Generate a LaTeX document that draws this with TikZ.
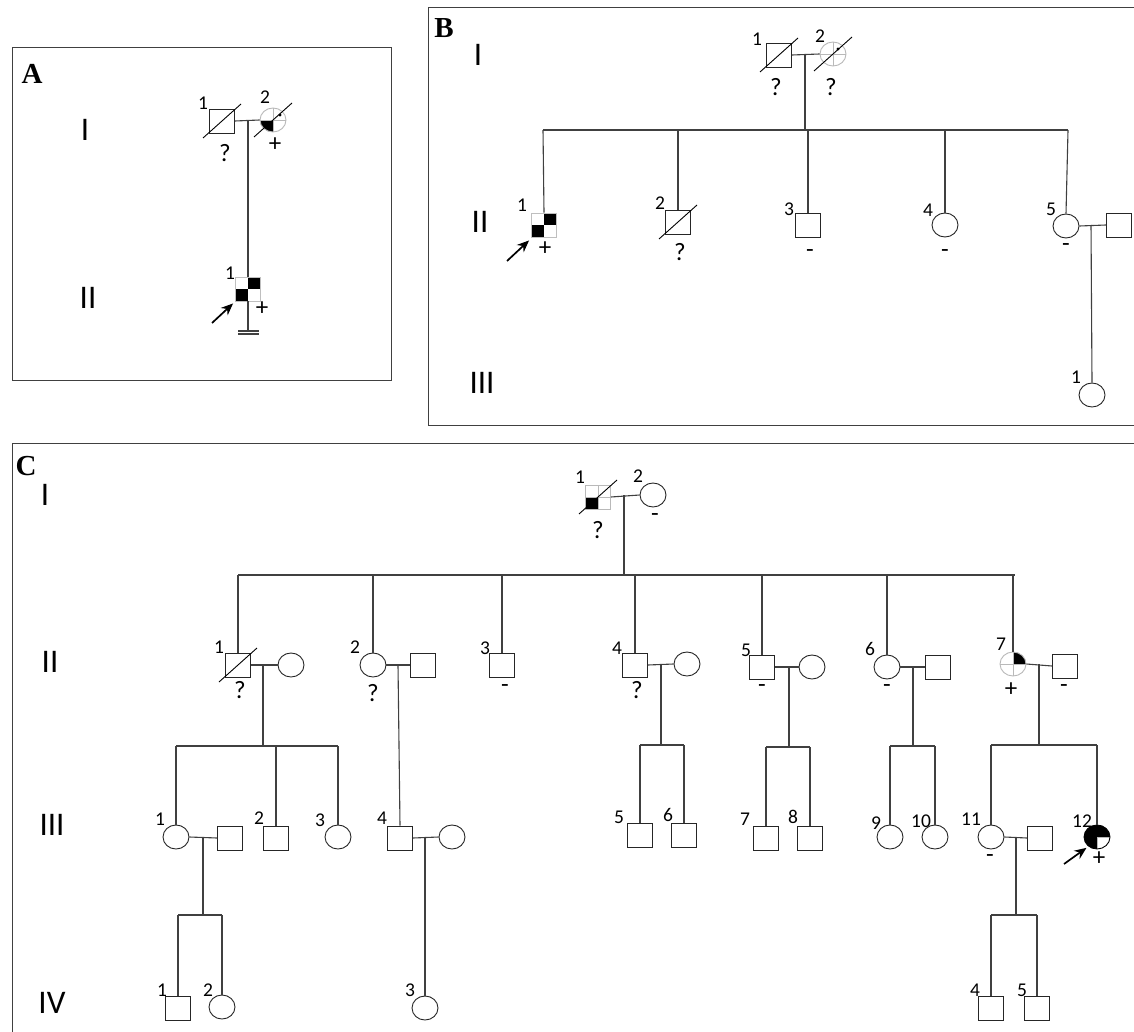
\documentclass[tikz,border=0pt]{standalone}
\usepackage{fontspec}
\setmainfont{Carlito}
\newfontfamily\tnr{Liberation Serif}
\usetikzlibrary{shapes.geometric,arrows.meta}
\newcommand\numf{\fontsize{19.5}{20}\selectfont}
\newcommand\mkf{\fontsize{25}{26}\selectfont}
\newcommand\romf{\fontsize{33}{34}\selectfont}
\newcommand\panf{\tnr\bfseries\fontsize{29}{30}\selectfont}
\tikzset{
 ln/.style={draw=black!75, line width=1.1pt},
 frame/.style={draw=black!75, line width=1pt},
 sq/.style={draw=black!85, line width=0.9pt, rectangle, minimum width=25pt, minimum height=24pt, inner sep=0pt},
 ci/.style={draw=black!85, line width=0.9pt, ellipse, minimum width=26pt, minimum height=24pt, inner sep=0pt},
 num/.style={font=\numf, inner sep=0pt},
 mk/.style={font=\mkf, inner sep=0pt},
 rom/.style={font=\romf, inner sep=0pt},
 pan/.style={font=\panf, inner sep=0pt},
 dg/.style={draw=black, line width=0.9pt},
 arr/.style={-{Stealth[length=12pt,width=10pt]}, line width=1.7pt},
 crs/.style={draw=gray!55, line width=0.7pt},
 check/.style={sq, draw=gray!50, path picture={
   \fill (path picture bounding box.center) rectangle (path picture bounding box.north east);
   \fill (path picture bounding box.center) rectangle (path picture bounding box.south west);}},
 cbl/.style={ci, draw=gray!55, path picture={
   \fill (path picture bounding box.center) rectangle (path picture bounding box.south west);
   \draw[crs] (path picture bounding box.north) -- (path picture bounding box.south)
     (path picture bounding box.west) -- (path picture bounding box.east);}},
 cx/.style={ci, draw=gray!55, path picture={
   \draw[crs] (path picture bounding box.north) -- (path picture bounding box.south)
     (path picture bounding box.west) -- (path picture bounding box.east);}},
 ctr/.style={ci, draw=gray!55, path picture={
   \fill (path picture bounding box.center) rectangle (path picture bounding box.north east);
   \draw[crs] (path picture bounding box.north) -- (path picture bounding box.south)
     (path picture bounding box.west) -- (path picture bounding box.east);}},
 c3q/.style={ci, draw=black, path picture={
   \fill (path picture bounding box.center) rectangle (path picture bounding box.north east);
   \fill (path picture bounding box.north west) rectangle (path picture bounding box.south);
   \draw[crs] (path picture bounding box.center) -- (path picture bounding box.south)
     (path picture bounding box.center) -- (path picture bounding box.east);}},
 sbl/.style={sq, draw=gray!55, path picture={
   \fill (path picture bounding box.center) rectangle (path picture bounding box.south west);
   \draw[crs] (path picture bounding box.north) -- (path picture bounding box.south)
     (path picture bounding box.west) -- (path picture bounding box.east);}},
}
\newcommand\dead[1]{\draw[dg] ([shift={(-19,17)}]#1.center) -- ([shift={(19,-17)}]#1.center);}
\begin{document}
\begin{tikzpicture}[x=1pt,y=-1pt]
\useasboundingbox (0,0) rectangle (1134,1032);
\fill[white] (0,0) rectangle (1134,1032);
% ================= Panel A =================
\draw[frame] (12,48) rectangle (391,380);
\node[pan] (pA) at (32,74) {A};
\node[rom] (rAI) at (85,130) {I};
\node[rom] (rAII) at (88,298) {II};
\node[sq] (A1) at (222,121) {};
\node[cbl] (A2) at (273,120) {};
\fill ([shift={(7,-5)}]A2.center) circle (1.7);
\dead{A1} \dead{A2}
\draw[ln] (A1.east) -- (A2.west);
\coordinate (A12) at (248,121);
\node[num] at (203,103) {1};
\node[num] at (265,97) {2};
\node[mk] at (225,153) {?};
\node[mk] at (275,145) {+};
\node[check] (A3) at (248,289) {};
\draw[ln] (A12) -- (A3.north);
\coordinate (A3b) at (248,331);
\draw[ln] (A3.south) -- (A3b);
\draw[ln] ([xshift=-10]A3b) -- ([xshift=11]A3b) ([shift={(-10,3)}]A3b) -- ([shift={(11,3)}]A3b);
\node[num] at (230,273) {1};
\node[mk] at (262,309) {+};
\coordinate (A3a) at (212,323);
\draw[arr] (A3a) -- ([shift={(-2,2)}]A3.south west);
% ================= Panel B =================
\draw[frame] (1134,8) -- (428,8) -- (428,425) -- (1134,425);
\node[pan] (pB) at (444,28) {B};
\node[rom] (rBI) at (478,55) {I};
\node[rom] (rBII) at (480,222) {II};
\node[rom] (rBIII) at (482,383) {III};
\node[sq] (B1) at (779,55) {};
\node[cx] (B2) at (833,54) {};
\fill ([shift={(5,-5)}]B2.center) circle (1.7);
\dead{B1} \dead{B2}
\draw[ln] (B1.east) -- (B2.west);
\node[num] at (757,39) {1};
\node[num] at (820,36) {2};
\node[mk] at (776,87) {?};
\node[mk] at (831,87) {?};
\coordinate (B12) at (805,54);
\coordinate (Bs) at (805,130);
\coordinate (BsL) at (543,130);
\coordinate (BsR) at (1068,130);
\draw[ln] (B12) -- (Bs);
\draw[ln] (BsL) -- (BsR);
\node[check] (BII1) at (544,225) {};
\node[sq] (BII2) at (678,222) {};
\dead{BII2}
\node[sq] (BII3) at (808,225) {};
\node[ci] (BII4) at (945,225) {};
\node[ci] (BII5) at (1066,226) {};
\node[sq] (BII5s) at (1119,225) {};
\draw[ln] (BsL) -- (BII1.north);
\draw[ln] (BII2.north |- Bs) -- (BII2.north);
\draw[ln] (BII3.north |- Bs) -- (BII3.north);
\draw[ln] (BII4.north |- Bs) -- (BII4.north);
\draw[ln] (BsR) -- (BII5.north);
\draw[ln] (BII5.east) -- (BII5s.west);
\node[num] at (522,205) {1};
\node[mk] at (545,249) {+};
\coordinate (BII1a) at (507,261);
\draw[arr] (BII1a) -- ([shift={(-2,3)}]BII1.south west);
\node[num] at (660,203) {2};
\node[mk] at (680,252) {?};
\node[num] at (789,209) {3};
\node[mk] at (810,254) {-};
\node[num] at (928,210) {4};
\node[mk] at (945,254) {-};
\node[num] at (1051,209) {5};
\node[mk] at (1066,248) {-};
\coordinate (B5c) at (1091,225);
\node[ci] (BIII1) at (1092,395) {};
\draw[ln] (B5c) -- (BIII1.north);
\node[num] at (1076,377) {1};
% ================= Panel C =================
\draw[frame] (1134,443) -- (12,443) -- (12,1032);
\node[pan] (pC) at (26,466) {C};
\node[rom] (rCI) at (45,495) {I};
\node[rom] (rCII) at (50,662) {II};
\node[rom] (rCIII) at (52,825) {III};
\node[rom] (rCIV) at (52,1003) {IV};
% generation I
\node[sbl] (C1) at (598,497) {};
\dead{C1}
\node[ci] (C2) at (653,495) {};
\draw[ln] (C1.east) -- (C2.west);
\node[num] at (580,477) {1};
\node[num] at (638,476) {2};
\node[mk] at (598,530) {?};
\node[mk] at (655,518) {-};
\coordinate (C12) at (624,495);
\coordinate (Cs) at (624,575);
\draw[ln] (C12) -- (Cs);
\draw[ln] (238,575) coordinate (CsL) -- (1015,575) coordinate (CsR);
% generation II
\node[sq] (CII1) at (238,665) {};
\dead{CII1}
\node[ci] (CII1s) at (291,665) {};
\node[ci] (CII2) at (373,665) {};
\node[sq] (CII2s) at (423,665) {};
\node[sq] (CII3) at (502,665) {};
\node[sq] (CII4) at (635,665) {};
\node[ci] (CII4s) at (687,664) {};
\node[sq] (CII5) at (762,667) {};
\node[ci] (CII5s) at (812,667) {};
\node[ci] (CII6) at (887,667) {};
\node[sq] (CII6s) at (938,667) {};
\node[ctr] (CII7) at (1013,664) {};
\node[sq] (CII7s) at (1065,666) {};
\foreach \n in {CII1,CII2,CII3,CII4,CII5,CII6,CII7}
  \draw[ln] (\n.north |- Cs) -- (\n.north);
\draw[ln] (CII1.east) -- (CII1s.west);
\draw[ln] (CII2.east) -- (CII2s.west);
\draw[ln] (CII4.east) -- (CII4s.west);
\draw[ln] (CII5.east) -- (CII5s.west);
\draw[ln] (CII6.east) -- (CII6s.west);
\draw[ln] (CII7.east) -- (CII7s.west);
\node[num] at (219,647) {1};
\node[mk] at (240,690) {?};
\node[num] at (355,647) {2};
\node[mk] at (373,693) {?};
\node[num] at (485,648) {3};
\node[mk] at (505,689) {-};
\node[num] at (617,648) {4};
\node[mk] at (637,690) {?};
\node[num] at (746,650) {5};
\node[mk] at (762,689) {-};
\node[num] at (870,649) {6};
\node[mk] at (887,689) {-};
\node[num] at (1001,644) {7};
\node[mk] at (1011,690) {+};
\node[mk] at (1064,689) {-};
% generation III
\node[ci] (CIII1) at (176,837) {};
\node[sq] (CIII1s) at (230,838) {};
\node[sq] (CIII2) at (276,838) {};
\node[ci] (CIII3) at (338,837) {};
\node[sq] (CIII4) at (400,838) {};
\node[ci] (CIII4s) at (452,837) {};
\node[sq] (CIII5) at (640,835) {};
\node[sq] (CIII6) at (684,835) {};
\node[sq] (CIII7) at (766,838) {};
\node[sq] (CIII8) at (810,838) {};
\node[ci] (CIII9) at (890,837) {};
\node[ci] (CIII10) at (935,837) {};
\node[ci] (CIII11) at (991,837) {};
\node[sq] (CIII11s) at (1040,838) {};
\node[c3q] (CIII12) at (1097,837) {};
% descent II-1
\coordinate (C1d) at (263,665);
\coordinate (C1s) at (263,746);
\draw[ln] (C1d) -- (C1s);
\draw[ln] (CIII1.north |- C1s) -- (CIII3.north |- C1s);
\foreach \n in {CIII1,CIII2,CIII3} \draw[ln] (\n.north |- C1s) -- (\n.north);
% descent II-2
\coordinate (C2d) at (398,665);
\draw[ln] (C2d) -- (CIII4.north);
% descent II-4
\coordinate (C4d) at (661,664);
\coordinate (C4s) at (661,745);
\draw[ln] (C4d) -- (C4s);
\draw[ln] (CIII5.north |- C4s) -- (CIII6.north |- C4s);
\foreach \n in {CIII5,CIII6} \draw[ln] (\n.north |- C4s) -- (\n.north);
% descent II-5
\coordinate (C5d) at (789,667);
\coordinate (C5s) at (789,747);
\draw[ln] (C5d) -- (C5s);
\draw[ln] (CIII7.north |- C5s) -- (CIII8.north |- C5s);
\foreach \n in {CIII7,CIII8} \draw[ln] (\n.north |- C5s) -- (\n.north);
% descent II-6
\coordinate (C6d) at (913,667);
\coordinate (C6s) at (913,746);
\draw[ln] (C6d) -- (C6s);
\draw[ln] (CIII9.north |- C6s) -- (CIII10.north |- C6s);
\foreach \n in {CIII9,CIII10} \draw[ln] (\n.north |- C6s) -- (\n.north);
% descent II-7
\coordinate (C7d) at (1039,664);
\coordinate (C7s) at (1039,745);
\draw[ln] (C7d) -- (C7s);
\draw[ln] (CIII11.north |- C7s) -- (CIII12.north |- C7s);
\foreach \n in {CIII11,CIII12} \draw[ln] (\n.north |- C7s) -- (\n.north);
% couples III
\draw[ln] (CIII1.east) -- (CIII1s.west);
\draw[ln] (CIII4.east) -- (CIII4s.west);
\draw[ln] (CIII11.east) -- (CIII11s.west);
\node[num] at (160,819) {1};
\node[num] at (259,818) {2};
\node[num] at (320,820) {3};
\node[num] at (382,818) {4};
\node[num] at (619,817) {5};
\node[num] at (668,815) {6};
\node[num] at (745,819) {7};
\node[num] at (793,817) {8};
\node[num] at (876,823) {9};
\node[num] at (921,821) {10};
\node[num] at (971,819) {11};
\node[mk] at (990,859) {-};
\node[num] at (1082,821) {12};
\node[mk] at (1099,859) {+};
\coordinate (C12a) at (1064,864);
\draw[arr] (C12a) -- ([shift={(-1,2)}]CIII12.south west);
% generation IV
\node[sq] (CIV1) at (178,1008) {};
\node[ci] (CIV2) at (222,1007) {};
\node[ci] (CIV3) at (425,1008) {};
\node[sq] (CIV4) at (991,1008) {};
\node[sq] (CIV5) at (1037,1008) {};
\coordinate (C31d) at (203,837);
\coordinate (C31s) at (203,915);
\draw[ln] (C31d) -- (C31s);
\draw[ln] (CIV1.north |- C31s) -- (CIV2.north |- C31s);
\foreach \n in {CIV1,CIV2} \draw[ln] (\n.north |- C31s) -- (\n.north);
\coordinate (C34d) at (425,837);
\draw[ln] (C34d) -- (CIV3.north);
\coordinate (C311d) at (1016,837);
\coordinate (C311s) at (1016,915);
\draw[ln] (C311d) -- (C311s);
\draw[ln] (CIV4.north |- C311s) -- (CIV5.north |- C311s);
\foreach \n in {CIV4,CIV5} \draw[ln] (\n.north |- C311s) -- (\n.north);
\node[num] at (162,990) {1};
\node[num] at (208,990) {2};
\node[num] at (410,990) {3};
\node[num] at (975,990) {4};
\node[num] at (1022,990) {5};
\end{tikzpicture}
\end{document}
